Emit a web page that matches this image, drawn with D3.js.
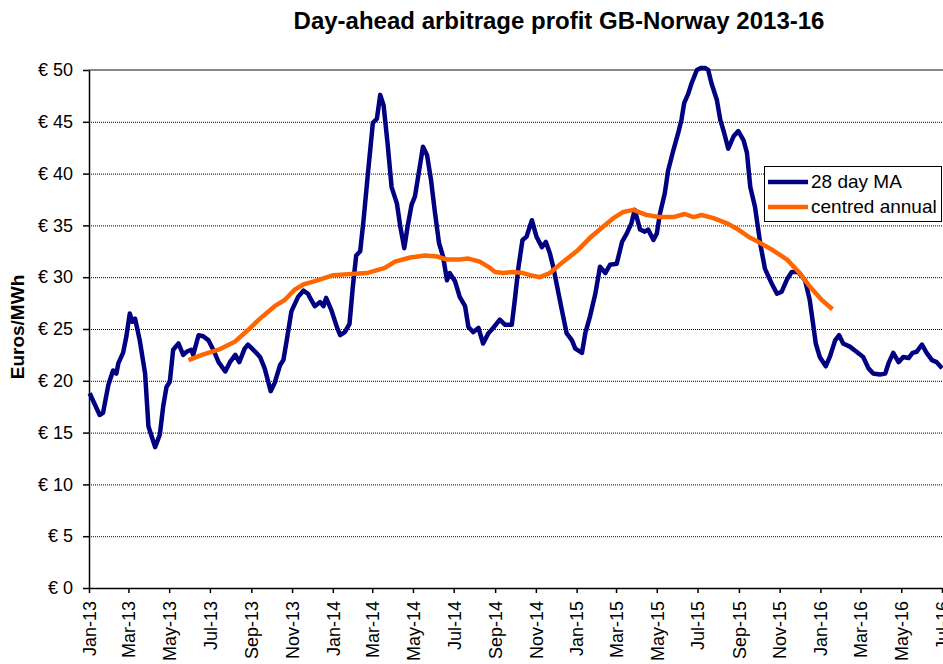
<!DOCTYPE html>
<html>
<head>
<meta charset="utf-8">
<script src="https://cdn.jsdelivr.net/npm/d3@7"></script>
<style>
    body { margin: 0; background: #fff; }
    svg { font-family: Arial, "Liberation Sans", sans-serif; }
</style>
</head>
<body>
<div class="chart"></div>
<script>
// days since 1 Jan 2013 and value (euros/MWh)
var maDays = [1, 16, 21, 29, 36, 41, 44, 51, 56, 61, 65, 69, 76, 84, 89, 94, 99, 106, 111, 116,
    121, 126, 134, 141, 146, 153, 156, 164, 171, 179, 186, 194, 204, 211, 219, 225, 233, 238, 249, 256,
    263, 272, 278, 286, 291, 296, 303, 313, 321, 328, 331, 338, 346, 351, 355, 363, 371, 376, 383, 390,
    395, 400, 406, 411, 418, 425, 431, 436, 441, 447, 453, 461, 466, 472, 477, 483, 488, 496, 500, 506,
    512, 518, 524, 530, 536, 540, 548, 555, 563, 568, 575, 583, 590, 598, 605, 615, 623, 633, 638, 643,
    649, 655, 663, 670, 678, 684, 690, 695, 703, 708, 715, 723, 728, 738, 743, 750, 758, 765, 773, 780,
    790, 798, 805, 812, 817, 825, 832, 837, 845, 850, 855, 862, 867, 875, 882, 887, 891, 897, 902, 910,
    916, 922, 927, 932, 940, 945, 951, 957, 965, 972, 980, 985, 990, 997, 1005, 1012, 1022, 1030, 1037, 1045,
    1052, 1062, 1072, 1079, 1084, 1088, 1094, 1103, 1109, 1117, 1123, 1129, 1139, 1149, 1159, 1167, 1174, 1184, 1192, 1197,
    1204, 1212, 1219, 1227, 1233, 1239, 1247, 1254, 1262, 1269, 1277];
var maValues = [18.8, 16.7, 16.9, 19.6, 21.0, 20.7, 21.7, 22.7, 24.3, 26.5, 25.7, 26.0, 23.9, 20.7, 15.6, 14.6, 13.6, 14.8, 17.5, 19.4,
    19.9, 23.0, 23.6, 22.5, 22.8, 23.0, 22.5, 24.4, 24.3, 23.9, 23.0, 21.8, 20.9, 21.8, 22.5, 21.8, 23.1, 23.5, 22.8, 22.3,
    21.2, 19.0, 19.8, 21.5, 22.0, 23.9, 26.7, 28.1, 28.7, 28.4, 28.0, 27.2, 27.6, 27.2, 28.0, 26.8, 25.2, 24.4, 24.7, 25.5,
    29.1, 32.1, 32.5, 35.5, 40.3, 44.9, 45.3, 47.6, 46.6, 42.9, 38.7, 37.1, 34.9, 32.8, 34.9, 37.0, 37.8, 41.0, 42.6, 41.8,
    39.4, 36.2, 33.3, 32.0, 29.7, 30.4, 29.6, 28.1, 27.2, 25.2, 24.7, 25.1, 23.6, 24.6, 25.1, 25.9, 25.4, 25.4, 28.1, 31.0,
    33.6, 33.9, 35.5, 33.9, 32.9, 33.4, 32.3, 31.0, 28.4, 26.8, 24.6, 23.9, 23.1, 22.7, 24.6, 26.2, 28.4, 31.0, 30.4, 31.2,
    31.3, 33.4, 34.2, 35.2, 36.5, 34.6, 34.4, 34.6, 33.6, 34.2, 36.2, 38.1, 40.3, 42.3, 43.9, 45.2, 46.8, 47.7, 48.7, 50.0,
    50.2, 50.2, 50.0, 48.7, 47.1, 45.2, 43.9, 42.4, 43.6, 44.1, 43.2, 42.0, 38.7, 36.8, 33.2, 30.8, 29.4, 28.4, 28.6, 29.8,
    30.5, 30.5, 29.7, 27.8, 25.5, 23.6, 22.3, 21.4, 22.3, 23.9, 24.4, 23.6, 23.3, 22.8, 22.3, 21.2, 20.7, 20.6, 20.7, 21.7,
    22.7, 21.8, 22.3, 22.2, 22.7, 22.8, 23.5, 22.7, 22.0, 21.8, 21.2];

var annualDays = [149, 169, 194, 219, 238, 256, 278, 293, 308, 321, 337, 366, 416, 443, 458, 481, 503, 521, 536, 555,
    568, 585, 598, 608, 620, 635, 650, 660, 675, 690, 710, 730, 750, 770, 785, 800, 815, 835, 855, 875,
    892, 905, 917, 935, 955, 972, 990, 1005, 1024, 1045, 1064, 1079, 1097, 1113];
var annualValues = [22.0, 22.5, 23.0, 23.8, 24.9, 26.0, 27.2, 27.8, 28.8, 29.3, 29.6, 30.2, 30.4, 30.9, 31.5, 31.9, 32.1, 32.0, 31.7, 31.7,
    31.8, 31.5, 31.0, 30.5, 30.4, 30.5, 30.4, 30.2, 30.0, 30.4, 31.5, 32.5, 33.8, 34.9, 35.7, 36.3, 36.5, 36.0, 35.8, 35.8,
    36.1, 35.8, 36.0, 35.7, 35.2, 34.6, 33.8, 33.3, 32.6, 31.7, 30.4, 29.1, 27.8, 26.9];

var seriesNames = ["28 day MA", "centred annual"];
var yTicks = [0, 5, 10, 15, 20, 25, 30, 35, 40, 45, 50];

var startDate = new Date(2013, 0, 1);
var endDate = new Date(2016, 6, 1);

var width = 943, height = 664;
// plot area in pixels (named so it does not clash with window.top)
var plot = { left: 89, right: 942, top: 70, bottom: 588 };

var svg = d3.select(".chart")
    .append("svg")
    .attr("width", width)
    .attr("height", height);

var x = d3.scaleTime()
    .domain([startDate, endDate])
    .range([plot.left, plot.right]);

var y = d3.scaleLinear()
    .domain([0, 50])
    .range([plot.bottom, plot.top]);

function toPoints(days, values) {
    return days.map(function (d, i) {
        return { date: d3.timeDay.offset(startDate, d), value: values[i] };
    });
}

var maData = toPoints(maDays, maValues);
var annualData = toPoints(annualDays, annualValues);

// dotted gridlines, the top one is the grey plot border
svg.append("g")
    .selectAll("line")
    .data(yTicks.filter(function (d) { return d > 0 && d < 50; }))
    .enter()
    .append("line")
    .attr("x1", plot.left)
    .attr("x2", width)
    .attr("y1", function (d) { return y(d) + 0.5; })
    .attr("y2", function (d) { return y(d) + 0.5; })
    .style("stroke", "#000")
    .style("stroke-width", 1)
    .style("stroke-dasharray", "1,1");

svg.append("line")
    .attr("x1", plot.left)
    .attr("x2", width)
    .attr("y1", y(50))
    .attr("y2", y(50))
    .style("stroke", "#888")
    .style("stroke-width", 2);

var xAxis = d3.axisBottom(x)
    .ticks(d3.timeMonth.every(2))
    .tickFormat(d3.timeFormat("%b-%y"))
    .tickSize(5)
    .tickSizeOuter(0);

var yAxis = d3.axisLeft(y)
    .tickValues(yTicks)
    .tickFormat(function (d) { return "€ " + d; })
    .tickSize(6)
    .tickPadding(10)
    .tickSizeOuter(0);

var gx = svg.append("g")
    .attr("transform", "translate(0," + plot.bottom + ")")
    .call(xAxis);

gx.selectAll("text")
    .attr("transform", "rotate(-90)")
    .attr("x", -13)
    .attr("y", 0)
    .attr("dy", "0.35em")
    .style("text-anchor", "end");

var gy = svg.append("g")
    .attr("transform", "translate(" + plot.left + ",0)")
    .call(yAxis);

[gx, gy].forEach(function (g) {
    g.selectAll("text").style("font-size", "18px").style("fill", "#000");
    g.selectAll("line").style("stroke", "#000").style("stroke-width", 1.5);
    g.select(".domain").style("stroke", "#000").style("stroke-width", 1.5);
});

var line = d3.line()
    .x(function (d) { return x(d.date); })
    .y(function (d) { return y(d.value); });

svg.append("path")
    .datum(maData)
    .attr("d", line)
    .style("fill", "none")
    .style("stroke", "#000080")
    .style("stroke-width", 4.5)
    .style("stroke-linejoin", "round");

svg.append("path")
    .datum(annualData)
    .attr("d", line)
    .style("fill", "none")
    .style("stroke", "#ff6600")
    .style("stroke-width", 4.5)
    .style("stroke-linejoin", "round");

// title and axis title
svg.append("text")
    .attr("x", 559)
    .attr("y", 29)
    .attr("text-anchor", "middle")
    .style("font-size", "24px")
    .style("font-weight", "bold")
    .text("Day-ahead arbitrage profit GB-Norway 2013-16");

svg.append("text")
    .attr("transform", "translate(24,327) rotate(-90)")
    .attr("text-anchor", "middle")
    .style("font-size", "19px")
    .style("font-weight", "bold")
    .text("Euros/MWh");

// legend
var legend = svg.append("g");
legend.append("rect")
    .attr("x", 764.5)
    .attr("y", 166.5)
    .attr("width", 177)
    .attr("height", 55)
    .style("fill", "#fff")
    .style("stroke", "#000")
    .style("stroke-width", 1);

var legendColors = ["#000080", "#ff6600"];
seriesNames.forEach(function (name, i) {
    var ly = 182 + i * 25;
    legend.append("line")
        .attr("x1", 768)
        .attr("x2", 808)
        .attr("y1", ly)
        .attr("y2", ly)
        .style("stroke", legendColors[i])
        .style("stroke-width", 4.5);
    legend.append("text")
        .attr("x", 811)
        .attr("y", ly + 6)
        .style("font-size", "19px")
        .text(name);
});
</script>
</body>
</html>
